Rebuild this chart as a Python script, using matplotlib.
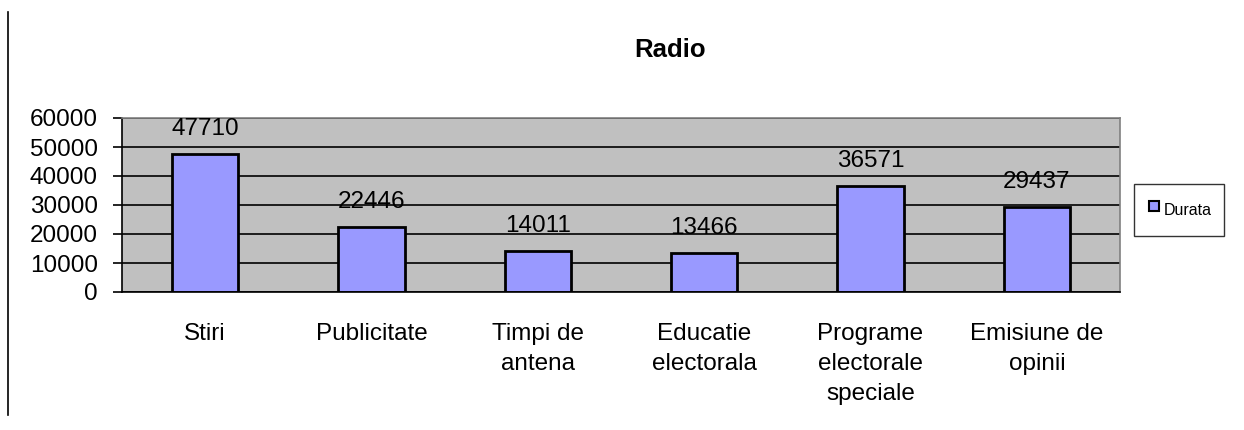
import numpy as np
import matplotlib.pyplot as plt
from matplotlib.lines import Line2D

plt.rcParams['font.family'] = ['Liberation Sans', 'DejaVu Sans']

categories = ['Stiri', 'Publicitate', 'Timpi de\nantena', 'Educatie\nelectorala',
              'Programe\nelectorale\nspeciale', 'Emisiune de\nopinii']
durata = [47710, 22446, 14011, 13466, 36571, 29437]
yticks = [0, 10000, 20000, 30000, 40000, 50000, 60000]

fig = plt.figure(figsize=(12.44, 4.30), dpi=100)
ax = fig.add_axes([122 / 1244, 1 - 292 / 430, 998 / 1244, 174 / 430])

x = np.arange(len(categories))
ax.set_facecolor('#C0C0C0')
ax.set_axisbelow(True)
ax.yaxis.grid(True, color='black', linewidth=1.2)
ax.bar(x, durata, width=0.4, color='#9999FF', edgecolor='black', linewidth=2)

# value labels above the bars
for xi, v in zip(x, durata):
    ax.text(xi, v + 8600, str(v), ha='center', va='center', fontsize=17.5)

ax.set_xlim(-0.5, len(categories) - 0.5)
ax.set_ylim(0, 60000)
ax.set_yticks(yticks)
ax.set_yticklabels([str(t) for t in yticks], fontsize=17.5)
ax.tick_params(axis='y', direction='out', length=6.5, width=1.2, pad=11)
ax.set_xticks(x)
ax.set_xticklabels(categories, fontsize=17.5, linespacing=1.47, va='top')
ax.tick_params(axis='x', length=0, pad=22.5)

for side in ['top', 'right']:
    ax.spines[side].set_color('#808080')
    ax.spines[side].set_linewidth(1.2)
ax.spines['left'].set_linewidth(1.2)
ax.spines['bottom'].set_linewidth(1.2)

fig.text(670 / 1244, 1 - 50 / 430, 'Radio', ha='center', va='center',
         fontsize=18.5, fontweight='bold')

handle = Line2D([], [], marker='s', linestyle='none', markersize=7,
                markerfacecolor='#9999FF', markeredgecolor='black',
                markeredgewidth=1.5)
leg = fig.legend([handle], ['Durata'], loc='center',
                 bbox_to_anchor=(1179 / 1244, 1 - 210 / 430),
                 fontsize=11.5, frameon=True, fancybox=False,
                 handletextpad=0.1, handlelength=1.0, borderpad=0.75,
                 handleheight=2.3, borderaxespad=0)
leg.get_frame().set_edgecolor('black')
leg.get_frame().set_linewidth(1.0)

fig.add_artist(Line2D([8 / 1244, 8 / 1244], [1 - 12 / 430, 1 - 415 / 430],
                      color='black', linewidth=1.2))

fig.savefig('out.png', dpi=100)
